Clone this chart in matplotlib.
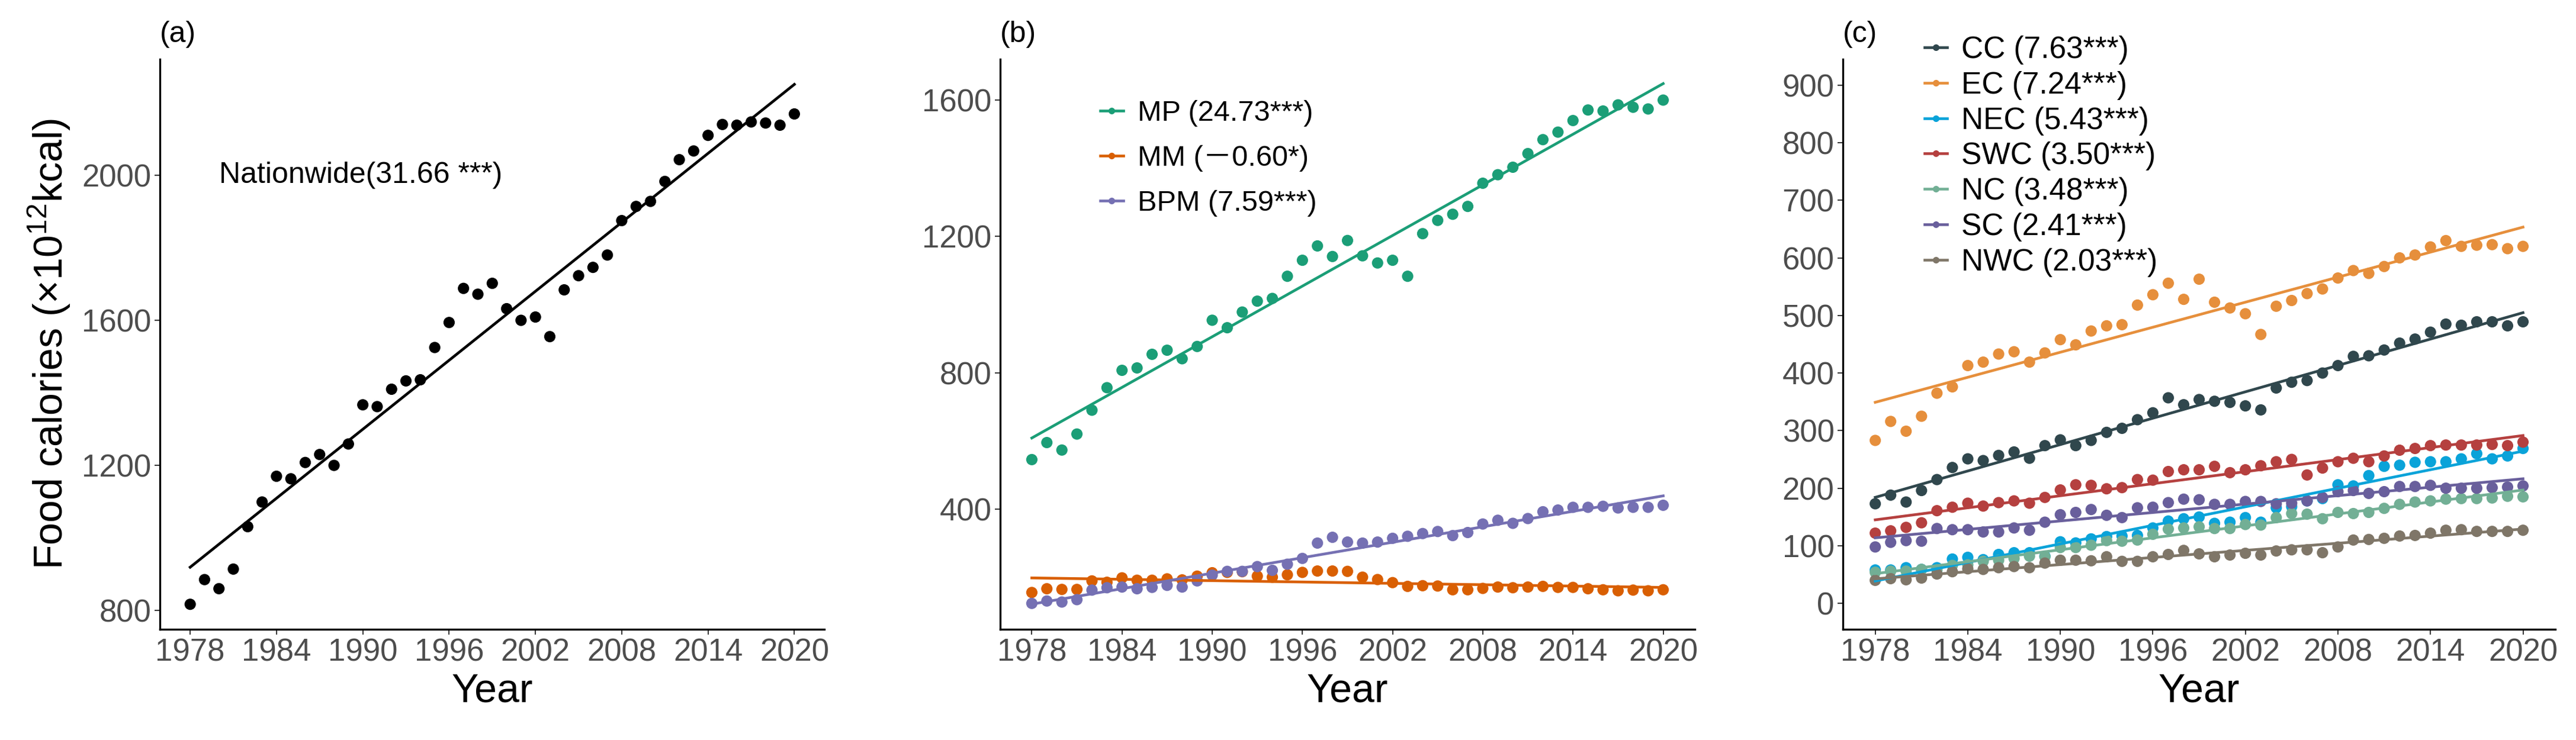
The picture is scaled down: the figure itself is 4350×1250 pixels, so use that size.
import numpy as np
import matplotlib
matplotlib.use("Agg")
import matplotlib.pyplot as plt
from matplotlib.lines import Line2D

plt.rcParams['font.family'] = ['Liberation Sans', 'Noto Sans CJK SC', 'DejaVu Sans']
plt.rcParams['mathtext.fontset'] = 'custom'
plt.rcParams['mathtext.rm'] = 'Liberation Sans'

years = np.arange(1978, 2021)
year_ticks = [1978, 1984, 1990, 1996, 2002, 2008, 2014, 2020]

# (a) nationwide food calories
nationwide = [817, 885, 860, 914, 1031, 1099, 1170, 1163, 1208, 1230,
              1200, 1259, 1367, 1362, 1410, 1433, 1436, 1525, 1594, 1688,
              1672, 1702, 1632, 1600, 1609, 1555, 1684, 1723, 1746, 1780,
              1875, 1914, 1928, 1983, 2043, 2067, 2110, 2140, 2138, 2147,
              2144, 2138, 2169]
nationwide_label = "Nationwide(31.66 ***)"

# (b) by source
b_names = ["MP (24.73***)", "MM (\uff0d0.60*)", "BPM (7.59***)"]
b_colors = ["#1B9E77", "#D95F02", "#7570B3"]
mp = [545, 595, 573, 620, 690, 756, 807, 814, 854, 866,
      841, 877, 954, 932, 978, 1010, 1018, 1083, 1130, 1172,
      1141, 1188, 1143, 1122, 1130, 1083, 1208, 1247, 1265, 1288,
      1356, 1381, 1403, 1443, 1484, 1506, 1540, 1571, 1568, 1586,
      1579, 1574, 1600]
mm = [155, 166, 164, 164, 189, 185, 198, 191, 191, 195,
      192, 203, 213, 214, 216, 203, 200, 207, 214, 218,
      218, 217, 200, 193, 184, 173, 175, 174, 163, 163,
      167, 171, 169, 171, 173, 170, 170, 166, 163, 160,
      162, 160, 163]
bpm = [123, 130, 127, 134, 162, 169, 171, 166, 170, 176,
       171, 189, 206, 217, 217, 231, 220, 238, 255, 300,
       317, 303, 300, 303, 314, 320, 328, 334, 322, 331,
       356, 367, 358, 372, 392, 397, 405, 405, 408, 403,
       405, 405, 411]

# (c) by region
c_names = ["CC (7.63***)", "EC (7.24***)", "NEC (5.43***)", "SWC (3.50***)",
           "NC (3.48***)", "SC (2.41***)", "NWC (2.03***)"]
c_colors = ["#30474D", "#E68F3C", "#0AA3D9", "#B5403F", "#72AF95", "#695F9C", "#7F7668"]
cc = [173, 188, 176, 196, 215, 236, 251, 248, 257, 263,
      252, 274, 284, 274, 283, 297, 304, 319, 331, 357,
      345, 354, 351, 349, 343, 336, 374, 384, 387, 400,
      413, 429, 430, 440, 452, 459, 471, 485, 483, 489,
      489, 482, 489]
ec = [283, 316, 299, 325, 365, 376, 413, 419, 433, 437,
      419, 435, 458, 449, 473, 482, 484, 518, 536, 556,
      528, 563, 523, 513, 503, 467, 516, 526, 538, 546,
      565, 578, 573, 585, 600, 605, 619, 630, 620, 622,
      623, 616, 620]
nec = [58, 58, 62, 59, 62, 77, 80, 76, 85, 88,
       88, 82, 107, 105, 112, 116, 117, 118, 131, 143,
       147, 150, 139, 141, 149, 141, 166, 168, 178, 182,
       206, 204, 222, 238, 240, 245, 246, 246, 251, 260,
       251, 256, 269]
swc = [122, 126, 132, 140, 161, 167, 174, 169, 175, 178,
       174, 184, 197, 206, 205, 199, 201, 215, 214, 229,
       232, 232, 238, 227, 232, 239, 246, 250, 223, 235,
       246, 252, 246, 256, 266, 269, 274, 275, 275, 275,
       276, 274, 280]
nc = [54, 56, 56, 59, 58, 66, 67, 73, 75, 78,
      82, 81, 97, 97, 101, 109, 108, 110, 120, 129,
      131, 133, 130, 130, 137, 136, 149, 156, 155, 147,
      158, 156, 158, 165, 172, 176, 178, 181, 182, 182,
      183, 186, 185]
sc = [98, 106, 109, 108, 130, 128, 128, 124, 124, 131,
      127, 141, 154, 158, 163, 153, 149, 166, 167, 175,
      181, 180, 172, 172, 177, 177, 173, 174, 178, 184,
      194, 196, 191, 194, 203, 203, 205, 200, 200, 200,
      201, 202, 204]
nwc = [40, 43, 41, 44, 51, 55, 60, 59, 62, 64,
       62, 70, 75, 75, 74, 81, 73, 73, 81, 85,
       92, 86, 81, 84, 87, 84, 91, 93, 93, 88,
       98, 110, 111, 113, 117, 118, 122, 127, 128, 125,
       125, 125, 127]

TICK_SIZE = 38
LABEL_SIZE = 49
PT_SIZE = 190
LW = 3.3


def style_axes(ax, tag):
    for s in ["top", "right"]:
        ax.spines[s].set_visible(False)
    for s in ["left", "bottom"]:
        ax.spines[s].set_linewidth(2.4)
    ax.tick_params(length=6.5, width=1.4, color="#333333", labelsize=TICK_SIZE,
                   labelcolor="#4D4D4D", pad=4)
    ax.set_xticks(year_ticks)
    ax.set_xlim(1975.9, 2022.1)
    ax.set_xlabel("Year", fontsize=LABEL_SIZE, labelpad=6)
    ax.text(0, 1.02, tag, transform=ax.transAxes, fontsize=36, va="bottom", ha="left")


def fit_line(ax, vals, color):
    slope, icpt = np.polyfit(years, vals, 1)
    ends = years[[0, -1]]
    ax.plot(ends, icpt + slope * ends, color=color, lw=LW, zorder=3)


fig = plt.figure(figsize=(43.5, 12.5), dpi=100)

# panel (a)
ax1 = fig.add_axes([0.0621, 0.1496, 0.258, 0.7704])
ax1.scatter(years, nationwide, s=PT_SIZE, color="black", edgecolors="none", zorder=2)
fit_line(ax1, nationwide, "black")
ax1.set_ylim(748, 2320)
ax1.set_yticks([800, 1200, 1600, 2000])
ax1.set_ylabel("Food calories (\u00d710$^{12}$kcal)", fontsize=LABEL_SIZE, labelpad=12)
ax1.text(1980, 2000, nationwide_label, fontsize=36, va="center", ha="left")
style_axes(ax1, "(a)")

# panel (b)
ax2 = fig.add_axes([0.3883, 0.1496, 0.2696, 0.7704])
b_series = [mp, mm, bpm]
for vals, col in zip(b_series, b_colors):
    ax2.scatter(years, vals, s=PT_SIZE, color=col, edgecolors="none", zorder=2)
for vals, col in zip(b_series, b_colors):
    fit_line(ax2, vals, col)
ax2.set_ylim(47, 1720)
ax2.set_yticks([400, 800, 1200, 1600])
style_axes(ax2, "(b)")
handles = [Line2D([], [], color=c, lw=LW, marker="o", markersize=7) for c in b_colors]
ax2.legend(handles, b_names, loc="upper left", bbox_to_anchor=(0.4271, 0.865),
           bbox_transform=fig.transFigure, frameon=False, fontsize=35, borderpad=0,
           borderaxespad=0, handlelength=0.8, handletextpad=0.5, labelspacing=0.64)

# panel (c)
ax3 = fig.add_axes([0.7154, 0.1496, 0.2766, 0.7704])
c_series = [cc, ec, nec, swc, nc, sc, nwc]
for vals, col in zip(c_series, c_colors):
    ax3.scatter(years, vals, s=PT_SIZE, color=col, edgecolors="none", zorder=2)
for vals, col in zip(c_series, c_colors):
    fit_line(ax3, vals, col)
ax3.set_ylim(-45, 945)
ax3.set_yticks(range(0, 901, 100))
style_axes(ax3, "(c)")
handles = [Line2D([], [], color=c, lw=LW, marker="o", markersize=7) for c in c_colors]
ax3.legend(handles, c_names, loc="upper left", bbox_to_anchor=(0.7471, 0.952),
           bbox_transform=fig.transFigure, frameon=False, fontsize=37, borderpad=0,
           borderaxespad=0, handlelength=0.75, handletextpad=0.45, labelspacing=0.21)

fig.savefig("out.png", dpi=100)
